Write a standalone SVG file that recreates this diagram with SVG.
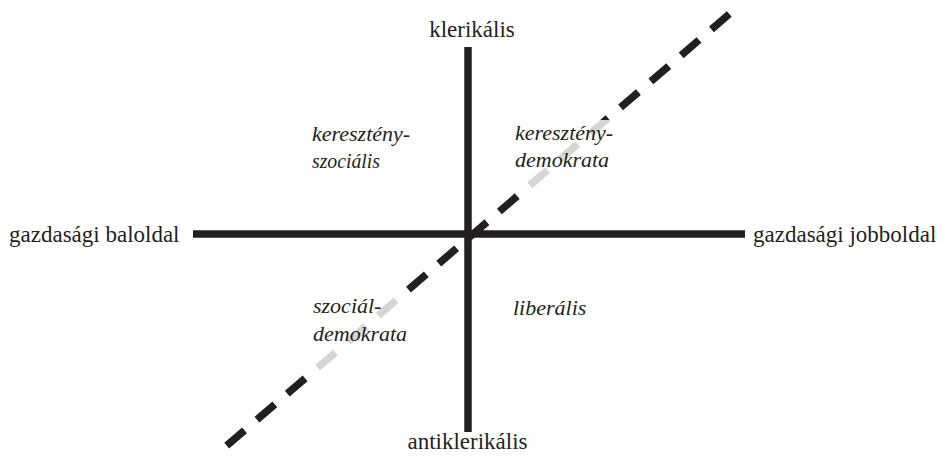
<svg xmlns="http://www.w3.org/2000/svg" width="942" height="456" viewBox="0 0 942 456">
<style>
.lbl{font-family:"Liberation Serif","Times New Roman",serif;font-size:23px;fill:#231f20}
.it{font-family:"Liberation Serif","Times New Roman",serif;font-size:22px;font-style:italic;fill:#231f20}
.axis{stroke:#231f20;stroke-width:7.5;fill:none}
.dash{stroke:#231f20;stroke-width:7.5;stroke-dasharray:23.5 16.44;fill:none}
.frame{fill:#ffffff;fill-opacity:0.82}
</style>
<rect width="942" height="456" fill="#ffffff"/>
<g id="connectors">
<line class="axis" x1="468" y1="47" x2="468" y2="432"/>
<line class="axis" x1="193" y1="234" x2="745" y2="234"/>
<line class="dash" x1="226.7" y1="445.7" x2="729.3" y2="14"/>
</g>
<g id="frames">
<rect class="frame" x="505" y="120" width="117" height="71"/>
<rect class="frame" x="305" y="295" width="107" height="78"/>
</g>
<g id="node-klerikalis"><text class="lbl" x="472" y="37" text-anchor="middle">klerikális</text></g>
<g id="node-antiklerikalis"><text class="lbl" x="467.5" y="449" text-anchor="middle">antiklerikális</text></g>
<g id="node-baloldal"><text class="lbl" x="9" y="242">gazdasági baloldal</text></g>
<g id="node-jobboldal"><text class="lbl" x="753" y="242">gazdasági jobboldal</text></g>
<g id="node-keresztenyszocialis"><text class="it" x="312" y="141">keresztény-</text><text class="it" x="312" y="168" textLength="68" lengthAdjust="spacingAndGlyphs">szociális</text></g>
<g id="node-keresztenydemokrata"><text class="it" x="515" y="140">keresztény-</text><text class="it" x="515" y="167">demokrata</text></g>
<g id="node-szocialdemokrata"><text class="it" x="313" y="313">szociál-</text><text class="it" x="313" y="341">demokrata</text></g>
<g id="node-liberalis"><text class="it" x="513" y="315">liberális</text></g>
</svg>
